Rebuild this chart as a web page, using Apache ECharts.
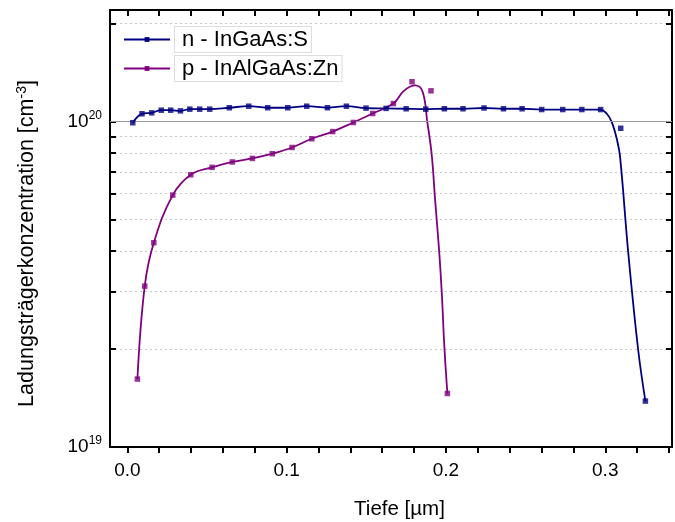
<!DOCTYPE html>
<html>
<head>
<meta charset="utf-8">
<script src="https://cdn.jsdelivr.net/npm/echarts@6/dist/echarts.min.js"></script>
<style>
html,body{margin:0;padding:0;background:#fff;}
#chart{width:675px;height:522px;}
</style>
</head>
<body>
<div id="chart"></div>
<script>
// Measured points
var nDepth = [0.0034,0.0092,0.0153,0.0213,0.0272,0.0333,0.0392,0.0454,0.0517,0.0640,0.0762,0.0881,0.1007,0.1126,0.1256,0.1375,0.1498,0.1624,0.1750,0.1873,0.1990,0.2107,0.2239,0.2361,0.2478,0.2601,0.2733,0.2853,0.2971,0.3097,0.3252];
var nConc  = [9.91e19,1.056e20,1.063e20,1.083e20,1.083e20,1.078e20,1.091e20,1.091e20,1.091e20,1.102e20,1.114e20,1.102e20,1.102e20,1.114e20,1.102e20,1.114e20,1.099e20,1.097e20,1.094e20,1.091e20,1.094e20,1.094e20,1.10e20,1.094e20,1.094e20,1.088e20,1.088e20,1.088e20,1.088e20,9.53e19,1.384e19];
var pDepth = [0.0063,0.0109,0.0166,0.0285,0.0398,0.0532,0.0659,0.0785,0.0910,0.1034,0.1158,0.1289,0.1419,0.1540,0.1670,0.1787,0.1906,0.2009];
var pConc  = [1.617e19,3.12e19,4.24e19,5.94e19,6.86e19,7.23e19,7.51e19,7.70e19,7.96e19,8.32e19,8.85e19,9.31e19,9.93e19,1.058e20,1.135e20,1.325e20,1.242e20,1.46e19];

// Fitted curves
var nFitDepth = [0.0034,0.0092,0.0153,0.0213,0.0272,0.0333,0.0392,0.0454,0.0517,0.0640,0.0762,0.0881,0.1007,0.1126,0.1256,0.1375,0.1498,0.1624,0.1750,0.1873,0.1990,0.2107,0.2239,0.2361,0.2478,0.2601,0.2733,0.2853,0.2971,0.3010,0.3041,0.3072,0.3093,0.3143,0.3206,0.3252];
var nFitConc  = [9.91e19,1.056e20,1.063e20,1.083e20,1.083e20,1.078e20,1.091e20,1.091e20,1.091e20,1.102e20,1.114e20,1.102e20,1.102e20,1.114e20,1.102e20,1.114e20,1.099e20,1.097e20,1.094e20,1.091e20,1.094e20,1.094e20,1.10e20,1.094e20,1.094e20,1.088e20,1.088e20,1.088e20,1.088e20,1.056e20,9.95e19,8.85e19,7.78e19,4.02e19,2.0e19,1.384e19];
var pFitDepth = [0.0063,0.0109,0.0166,0.0285,0.0398,0.0532,0.0659,0.0785,0.0910,0.1034,0.1158,0.1289,0.1419,0.1540,0.1670,0.1734,0.1806,0.1853,0.1883,0.1911,0.1932,0.1957,0.1974,0.1990,0.2009];
var pFitConc  = [1.617e19,3.12e19,4.24e19,5.94e19,6.86e19,7.23e19,7.51e19,7.70e19,7.96e19,8.32e19,8.85e19,9.31e19,9.93e19,1.058e20,1.135e20,1.239e20,1.29e20,1.236e20,9.95e19,7.87e19,5.73e19,4.02e19,2.96e19,2.03e19,1.46e19];

// Axis ticks
var xLabels = [0, 0.1, 0.2, 0.3];
var xTicks = [0,0.02,0.04,0.06,0.08,0.1,0.12,0.14,0.16,0.18,0.2,0.22,0.24,0.26,0.28,0.3,0.32,0.34];
var yLabels = [1e19, 1e20];
var yTicks = [1e19,2e19,3e19,4e19,5e19,6e19,7e19,8e19,9e19,1e20,2e20];

var seriesNames = ['n - InGaAs:S', 'p - InAlGaAs:Zn'];
var colors = ['#000080', '#800080'];

function zip(a, b){ return a.map(function(v,i){ return [v, b[i]]; }); }

var FONT = 'Liberation Sans, Arial, sans-serif';
var xMin = -0.0109, xMax = 0.3419, yMin = 1e19, yMax = 2.2e20;

var chart = echarts.init(document.getElementById('chart'), null, {renderer:'canvas'});
var option = {
  animation: false,
  backgroundColor: '#fff',
  textStyle: {fontFamily: FONT},
  grid: {left: 110, top: 10, width: 562, height: 437, containLabel: false, outerBoundsMode: 'none'},
  legend: {
    orient: 'vertical', left: 123, top: 26, itemGap: 2, padding: 0,
    itemWidth: 46, itemHeight: 6,
    data: seriesNames,
    textStyle: {fontSize: 22, fontFamily: FONT, color: '#000', backgroundColor: '#fff',
      borderColor: '#ddd', borderWidth: 1, padding: [2, 3, 1, 7]}
  },
  xAxis: [{
    type: 'value', min: xMin, max: xMax, position: 'bottom',
    name: 'Tiefe [µm]', nameLocation: 'middle', nameGap: 52,
    nameTextStyle: {fontSize: 20.5, fontFamily: FONT, color: '#000', padding: [0,0,0,17]},
    axisLine: {show: true, lineStyle: {color: '#000', width: 2}},
    axisTick: {show: true, inside: false, length: 6, lineStyle: {color:'#000', width: 2}, customValues: xTicks},
    axisLabel: {show: true, customValues: xLabels, fontSize: 19, color: '#000', margin: 14, fontFamily: FONT,
      formatter: function(v){ return v.toFixed(1); }},
    splitLine: {show: false}
  },{
    type: 'value', min: xMin, max: xMax, position: 'top',
    axisLine: {show: true, onZero: false, lineStyle: {color: '#000', width: 2}},
    axisTick: {show: true, inside: true, length: 6, lineStyle: {color:'#000', width: 2}, customValues: xTicks},
    axisLabel: {show: false}, splitLine: {show: false}
  }],
  yAxis: [{
    type: 'log', logBase: 10, min: yMin, max: yMax, position: 'left',
    name: 'Ladungsträgerkonzentration [cm{sup|-3}]', nameLocation: 'middle', nameGap: 70,
    nameTextStyle: {fontSize: 21.5, fontFamily: FONT, color: '#000', padding: [0, 30, 0, 0],
      rich: {sup: {fontSize: 14, fontFamily: FONT, verticalAlign: 'top', padding: [0,0,11,0]}}},
    axisLine: {show: true, onZero: false, lineStyle: {color: '#000', width: 2}},
    axisTick: {show: true, inside: true, length: 6, lineStyle: {color:'#000', width: 2}, customValues: yTicks},
    axisLabel: {show: true, customValues: yLabels, margin: 8, fontFamily: FONT,
      formatter: function(v){ return '{b|10}{s|' + Math.round(Math.log10(v)) + '}'; },
      rich: {b: {fontSize: 19, color: '#000', fontFamily: FONT},
             s: {fontSize: 12, color: '#000', fontFamily: FONT, verticalAlign: 'top', padding: [0,0,12,0]}}},
    splitLine: {show: true, lineStyle: {color: '#c8c8c8', type: [2, 3], width: 1}}
  },{
    type: 'log', logBase: 10, min: yMin, max: yMax, position: 'right',
    axisLine: {show: true, onZero: false, lineStyle: {color: '#000', width: 2}},
    axisTick: {show: true, inside: true, length: 6, lineStyle: {color:'#000', width: 2}, customValues: yTicks},
    axisLabel: {show: false}, splitLine: {show: false}
  }],
  series: [{
    name: seriesNames[0], type: 'line', data: zip(nFitDepth, nFitConc),
    smooth: 0.4, showSymbol: false, symbol: 'rect', symbolSize: 5,
    lineStyle: {color: colors[0], width: 1.8}, itemStyle: {color: colors[0]},
    markLine: {silent: true, symbol: 'none', label: {show: false},
      lineStyle: {color: '#9a9a9a', type: 'solid', width: 1.2}, data: [{yAxis: 1e20}]},
    z: 3
  },{
    name: seriesNames[1], type: 'line', data: zip(pFitDepth, pFitConc),
    smooth: 0.4, showSymbol: false, symbol: 'rect', symbolSize: 5,
    lineStyle: {color: colors[1], width: 1.8}, itemStyle: {color: colors[1]}, z: 4
  },{
    name: seriesNames[0], type: 'scatter', data: zip(nDepth, nConc),
    symbol: 'rect', symbolSize: 5.5, itemStyle: {color: colors[0]}, z: 5
  },{
    name: seriesNames[1], type: 'scatter', data: zip(pDepth, pConc),
    symbol: 'rect', symbolSize: 5.5, itemStyle: {color: colors[1]}, z: 6
  }]
};
chart.setOption(option);
</script>
</body>
</html>
